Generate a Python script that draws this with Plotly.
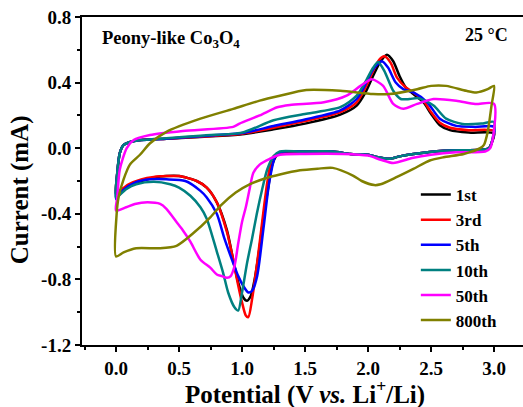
import plotly.graph_objects as go

# ---- data: each cycle = cathodic sweep (3.0 -> 0 V) followed by anodic sweep (0 -> 3.0 V)
labels = ["1st", "3rd", "5th", "10th", "50th", "800th"]
colors = ["#000000", "#ff0000", "#0000ff", "#008080", "#ff00ff", "#808000"]

v_1st = [3.0, 2.98, 2.96, 2.9, 2.6, 2.36, 2.25, 2.17, 2.08, 2.0, 1.86, 1.72, 1.46, 1.33, 1.28, 1.24, 1.21, 1.17, 1.14, 1.1, 1.07, 1.04, 1.01, 0.97, 0.93, 0.88, 0.8, 0.72, 0.64, 0.5, 0.4, 0.3, 0.2, 0.1, 0.03, 0.0,
         0.01, 0.03, 0.06, 0.1, 0.2, 0.4, 0.7, 1.0, 1.25, 1.5, 1.78, 1.91, 1.98, 2.04, 2.1, 2.15, 2.2, 2.25, 2.3, 2.36, 2.44, 2.5, 2.57, 2.65, 2.8, 3.0]
i_1st = [0.09, 0.03, 0.0, -0.01, -0.015, -0.035, -0.05, -0.065, -0.055, -0.04, -0.035, -0.02, -0.02, -0.025, -0.04, -0.1, -0.23, -0.42, -0.6, -0.8, -0.9, -0.93, -0.91, -0.82, -0.68, -0.5, -0.33, -0.24, -0.2, -0.17, -0.17, -0.18, -0.2, -0.23, -0.26, -0.28,
         -0.15, -0.03, 0.02, 0.035, 0.05, 0.058, 0.07, 0.085, 0.115, 0.15, 0.205, 0.26, 0.34, 0.44, 0.53, 0.57, 0.53, 0.44, 0.37, 0.33, 0.28, 0.21, 0.14, 0.11, 0.095, 0.09]

v_3rd = [3.0, 2.98, 2.96, 2.9, 2.6, 2.36, 2.25, 2.17, 2.08, 2.0, 1.86, 1.72, 1.46, 1.33, 1.28, 1.24, 1.2, 1.16, 1.12, 1.08, 1.05, 1.03, 1.0, 0.96, 0.93, 0.88, 0.8, 0.72, 0.64, 0.5, 0.4, 0.3, 0.2, 0.1, 0.03, 0.0,
         0.01, 0.03, 0.06, 0.1, 0.2, 0.4, 0.7, 1.0, 1.25, 1.5, 1.78, 1.91, 1.98, 2.04, 2.09, 2.13, 2.18, 2.23, 2.3, 2.36, 2.44, 2.5, 2.57, 2.65, 2.8, 3.0]
i_3rd = [0.105, 0.03, 0.0, -0.01, -0.015, -0.035, -0.05, -0.065, -0.055, -0.04, -0.035, -0.02, -0.02, -0.025, -0.035, -0.06, -0.21, -0.45, -0.7, -0.92, -1.03, -1.02, -0.94, -0.8, -0.68, -0.51, -0.33, -0.24, -0.2, -0.17, -0.17, -0.175, -0.19, -0.22, -0.26, -0.28,
         -0.15, -0.03, 0.02, 0.035, 0.05, 0.058, 0.072, 0.088, 0.125, 0.165, 0.22, 0.28, 0.37, 0.47, 0.54, 0.56, 0.52, 0.43, 0.37, 0.34, 0.29, 0.22, 0.155, 0.125, 0.11, 0.105]

v_5th = [3.0, 2.98, 2.96, 2.9, 2.6, 2.36, 2.25, 2.17, 2.08, 2.0, 1.86, 1.72, 1.46, 1.33, 1.27, 1.22, 1.17, 1.12, 1.08, 1.05, 1.01, 0.97, 0.93, 0.86, 0.8, 0.72, 0.67, 0.55, 0.4, 0.27, 0.15, 0.05, 0.0,
         0.01, 0.03, 0.06, 0.1, 0.2, 0.4, 0.7, 1.0, 1.25, 1.5, 1.78, 1.91, 1.98, 2.04, 2.11, 2.16, 2.22, 2.28, 2.36, 2.47, 2.57, 2.7, 2.85, 3.0]
i_5th = [0.13, 0.03, 0.0, -0.01, -0.015, -0.035, -0.05, -0.065, -0.055, -0.04, -0.035, -0.02, -0.02, -0.02, -0.04, -0.19, -0.49, -0.78, -0.87, -0.88, -0.84, -0.78, -0.7, -0.55, -0.4, -0.3, -0.26, -0.2, -0.19, -0.19, -0.21, -0.26, -0.31,
         -0.15, -0.03, 0.02, 0.035, 0.05, 0.058, 0.075, 0.092, 0.135, 0.175, 0.23, 0.3, 0.39, 0.48, 0.53, 0.49, 0.4, 0.36, 0.34, 0.28, 0.18, 0.136, 0.13, 0.13]

v_10th = [3.0, 2.98, 2.96, 2.9, 2.6, 2.36, 2.25, 2.17, 2.08, 2.0, 1.86, 1.72, 1.46, 1.3, 1.25, 1.2, 1.16, 1.12, 1.08, 1.04, 1.0, 0.97, 0.94, 0.89, 0.85, 0.8, 0.72, 0.67, 0.59, 0.5, 0.43, 0.3, 0.16, 0.08, 0.0,
          0.01, 0.03, 0.06, 0.1, 0.2, 0.4, 0.7, 1.0, 1.25, 1.51, 1.78, 1.91, 1.99, 2.04, 2.08, 2.13, 2.2, 2.26, 2.33, 2.4, 2.52, 2.62, 2.75, 2.9, 3.0]
i_10th = [0.16, 0.03, 0.0, -0.01, -0.015, -0.035, -0.05, -0.065, -0.055, -0.04, -0.035, -0.02, -0.02, -0.02, -0.05, -0.13, -0.25, -0.39, -0.55, -0.7, -0.88, -0.99, -0.97, -0.88, -0.76, -0.63, -0.43, -0.36, -0.29, -0.24, -0.22, -0.205, -0.22, -0.25, -0.3,
          -0.15, -0.03, 0.02, 0.035, 0.05, 0.06, 0.078, 0.095, 0.17, 0.21, 0.25, 0.32, 0.42, 0.49, 0.525, 0.47, 0.35, 0.3, 0.3, 0.305, 0.26, 0.18, 0.148, 0.15, 0.16]

v_50th = [3.0, 2.97, 2.93, 2.7, 2.5, 2.35, 2.2, 2.1, 2.0, 1.8, 1.5, 1.3, 1.22, 1.14, 1.09, 1.06, 1.03, 1.0, 0.97, 0.94, 0.91, 0.88, 0.84, 0.8, 0.75, 0.67, 0.59, 0.53, 0.48, 0.4, 0.35, 0.25, 0.15, 0.08, 0.0,
          0.01, 0.03, 0.085, 0.14, 0.27, 0.53, 0.93, 0.98, 1.14, 1.28, 1.38, 1.65, 1.83, 1.94, 2.03, 2.12, 2.2, 2.28, 2.39, 2.52, 2.7, 2.85, 3.0]
i_50th = [0.27, 0.0, -0.02, -0.025, -0.04, -0.06, -0.09, -0.07, -0.045, -0.035, -0.035, -0.04, -0.065, -0.1, -0.15, -0.25, -0.36, -0.45, -0.58, -0.72, -0.78, -0.79, -0.78, -0.77, -0.73, -0.68, -0.57, -0.5, -0.45, -0.37, -0.34, -0.33, -0.34, -0.36, -0.38,
          -0.3, -0.13, 0.0, 0.05, 0.08, 0.105, 0.13, 0.15, 0.2, 0.25, 0.264, 0.28, 0.32, 0.38, 0.42, 0.38, 0.27, 0.24, 0.27, 0.3, 0.29, 0.27, 0.27]

v_800th = [3.0, 2.98, 2.95, 2.92, 2.89, 2.76, 2.6, 2.49, 2.36, 2.23, 2.1, 2.05, 1.95, 1.88, 1.72, 1.6, 1.46, 1.3, 1.2, 1.06, 0.95, 0.83, 0.75, 0.61, 0.48, 0.35, 0.16, 0.06, 0.0,
           0.005, 0.02, 0.06, 0.11, 0.19, 0.27, 0.4, 0.67, 0.93, 1.14, 1.3, 1.51, 1.78, 2.04, 2.17, 2.39, 2.5, 2.62, 2.78, 2.86, 2.95, 3.0]
i_800th = [0.38, 0.26, 0.1, 0.02, 0.0, -0.035, -0.055, -0.075, -0.126, -0.175, -0.22, -0.225, -0.2, -0.167, -0.12, -0.125, -0.135, -0.16, -0.18, -0.22, -0.27, -0.35, -0.42, -0.52, -0.595, -0.61, -0.61, -0.635, -0.66,
           -0.4, -0.3, -0.19, -0.1, -0.04, 0.03, 0.1, 0.18, 0.24, 0.29, 0.32, 0.355, 0.35, 0.33, 0.33, 0.36, 0.38, 0.38, 0.35, 0.34, 0.36, 0.38]

potentials = [v_1st, v_3rd, v_5th, v_10th, v_50th, v_800th]
currents = [i_1st, i_3rd, i_5th, i_10th, i_50th, i_800th]

x_ticks = [0.0, 0.5, 1.0, 1.5, 2.0, 2.5, 3.0]
y_ticks = [-1.2, -0.8, -0.4, 0.0, 0.4, 0.8]

FONT = "Liberation Serif"

fig = go.Figure()
for lab, col, vx, iy in zip(labels, colors, potentials, currents):
    fig.add_trace(go.Scatter(
        x=vx, y=iy, mode="lines", name=lab,
        line=dict(color=col, width=2.5, shape="spline", smoothing=0.7),
    ))

fig.update_layout(
    width=523, height=407,
    margin=dict(l=82, r=0, t=17, b=62),
    paper_bgcolor="white", plot_bgcolor="white",
    showlegend=True,
    legend=dict(
        x=0.757, y=0.512, xanchor="left", yanchor="top",
        bgcolor="rgba(0,0,0,0)", borderwidth=0,
        font=dict(family=FONT, size=17, color="black", weight="bold"),
        tracegroupgap=0,
    ),
    font=dict(family=FONT, color="black"),
)

fig.update_xaxes(
    range=[-0.27, 3.23],
    tickvals=x_ticks, ticktext=[f"{t:.1f}" for t in x_ticks],
    ticks="outside", ticklen=5, tickwidth=2, tickcolor="black",
    minor=dict(dtick=0.25, tick0=0, ticks="outside", ticklen=3, tickwidth=2, tickcolor="black"),
    showline=True, linewidth=2, linecolor="black", mirror=True,
    showgrid=False, zeroline=False,
    tickfont=dict(family=FONT, size=19, color="black", weight="bold"),
)
fig.update_yaxes(
    range=[-1.2, 0.8],
    tickvals=y_ticks, ticktext=[f"{t:.1f}" for t in y_ticks],
    ticks="outside", ticklen=5, tickwidth=2, tickcolor="black",
    minor=dict(dtick=0.2, tick0=0, ticks="outside", ticklen=3, tickwidth=2, tickcolor="black"),
    showline=True, linewidth=2, linecolor="black", mirror=False,
    showgrid=False, zeroline=False,
    tickfont=dict(family=FONT, size=19, color="black", weight="bold"),
)

fig.add_annotation(
    text="Potential (V <i>vs.</i> Li<sup>+</sup>/Li)", xref="paper", yref="paper",
    x=0.506, y=-0.146, xanchor="center", yanchor="middle", showarrow=False,
    font=dict(family=FONT, size=25, color="black", weight="bold"),
)
fig.add_annotation(
    text="Current (mA)", xref="paper", yref="paper",
    x=-0.14, y=0.4726, xanchor="center", yanchor="middle", textangle=-90, showarrow=False,
    font=dict(family=FONT, size=25, color="black", weight="bold"),
)
fig.add_annotation(
    text="Peony-like Co<sub>3</sub>O<sub>4</sub>", xref="paper", yref="paper",
    x=0.041, y=0.93, xanchor="left", yanchor="middle", showarrow=False,
    font=dict(family=FONT, size=18.5, color="black", weight="bold"),
)
fig.add_annotation(
    text="25 °C", xref="paper", yref="paper",
    x=0.9705, y=0.945, xanchor="right", yanchor="middle", showarrow=False,
    font=dict(family=FONT, size=18, color="black", weight="bold"),
)

fig.write_html("out.html")
